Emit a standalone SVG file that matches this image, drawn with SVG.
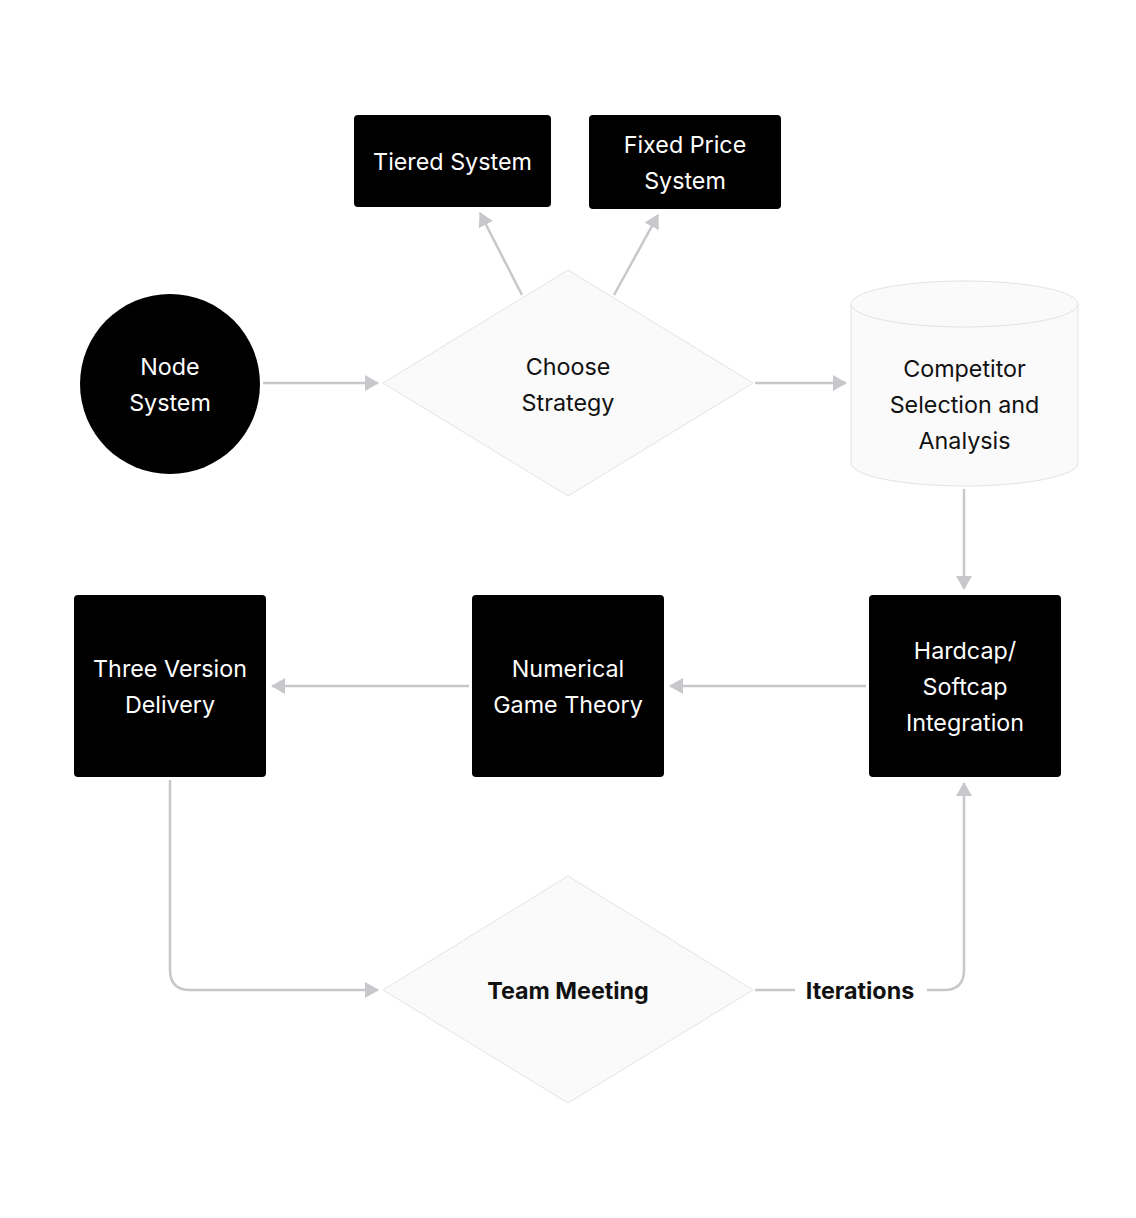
<svg xmlns="http://www.w3.org/2000/svg" width="1136" height="1218" viewBox="0 0 1136 1218">
<style>
.dark{fill:#000000}
.light{fill:#fafafa;stroke:#e3e3e3;stroke-width:1}
.wt{fill:#ffffff;font-family:Inter,"Liberation Sans",sans-serif;font-size:23.3px;text-anchor:middle}
.bt{fill:#111111;font-family:Inter,"Liberation Sans",sans-serif;font-size:23.3px;text-anchor:middle}
.bold{font-weight:700}
.edge{fill:none;stroke:#c8c8cc;stroke-width:2.5}
</style>
<defs>
<marker id="arr" markerUnits="userSpaceOnUse" markerWidth="14" markerHeight="16" viewBox="0 0 14 16" refX="13" refY="8" orient="auto">
<path d="M0,0 L14,8 L0,16 z" fill="#c8c8cc"/>
</marker>
</defs>
<rect width="1136" height="1218" fill="#ffffff"/>
<g id="connectors">
<path class="edge" d="M263,383 L378,383" marker-end="url(#arr)"/>
<path class="edge" d="M755,383 L846,383" marker-end="url(#arr)"/>
<path class="edge" d="M522,295 L480,213" marker-end="url(#arr)"/>
<path class="edge" d="M614,295 L658,215" marker-end="url(#arr)"/>
<path class="edge" d="M964,489 L964,589" marker-end="url(#arr)"/>
<path class="edge" d="M866,686 L670,686" marker-end="url(#arr)"/>
<path class="edge" d="M469,686 L272,686" marker-end="url(#arr)"/>
<path class="edge" d="M170,780 L170,970 Q170,990 190,990 L378,990" marker-end="url(#arr)"/>
<path class="edge" d="M755,990 L795,990"/>
<path class="edge" d="M927,990 L944,990 Q964,990 964,970 L964,783" marker-end="url(#arr)"/>
<text class="bt bold" x="860" y="999">Iterations</text>
</g>
<g id="tiered">
<rect class="dark" x="354" y="115" width="197" height="92" rx="4"/>
<text class="wt" x="452.5" y="170">Tiered System</text>
</g>
<g id="fixed">
<rect class="dark" x="589" y="115" width="192" height="94" rx="4"/>
<text class="wt" x="685" y="153">Fixed Price</text>
<text class="wt" x="685" y="189">System</text>
</g>
<g id="node-system">
<circle class="dark" cx="170" cy="384" r="90"/>
<text class="wt" x="170" y="375">Node</text>
<text class="wt" x="170" y="411">System</text>
</g>
<g id="choose">
<path class="light" d="M568,270 L753,383 L568,496 L383,383 Z" stroke-linejoin="round"/>
<text class="bt" x="568" y="375">Choose</text>
<text class="bt" x="568" y="411">Strategy</text>
</g>
<g id="competitor">
<path class="light" d="M851,304 L851,463 A113.5,23 0 0 0 1078,463 L1078,304"/>
<ellipse class="light" cx="964.5" cy="304" rx="113.5" ry="23"/>
<text class="bt" x="964.5" y="377">Competitor</text>
<text class="bt" x="964.5" y="413">Selection and</text>
<text class="bt" x="964.5" y="449">Analysis</text>
</g>
<g id="hardcap">
<rect class="dark" x="869" y="595" width="192" height="182" rx="4"/>
<text class="wt" x="965" y="659">Hardcap/</text>
<text class="wt" x="965" y="695">Softcap</text>
<text class="wt" x="965" y="731">Integration</text>
</g>
<g id="numerical">
<rect class="dark" x="472" y="595" width="192" height="182" rx="4"/>
<text class="wt" x="568" y="677">Numerical</text>
<text class="wt" x="568" y="713">Game Theory</text>
</g>
<g id="three">
<rect class="dark" x="74" y="595" width="192" height="182" rx="4"/>
<text class="wt" x="170" y="677">Three Version</text>
<text class="wt" x="170" y="713">Delivery</text>
</g>
<g id="team">
<path class="light" d="M568,876 L753,990 L568,1103 L383,990 Z" stroke-linejoin="round"/>
<text class="bt bold" x="568" y="999">Team Meeting</text>
</g>
</svg>
